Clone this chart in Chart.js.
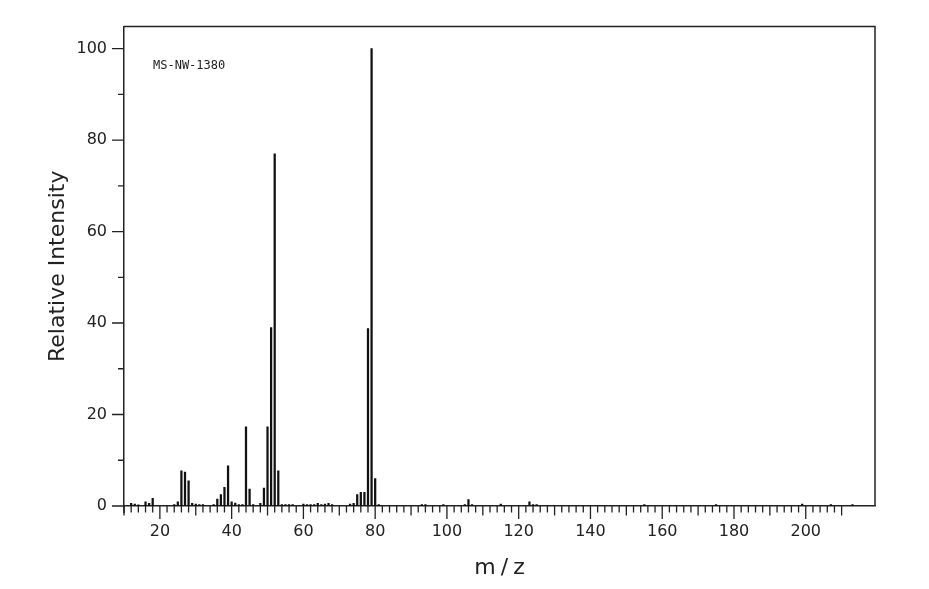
<!DOCTYPE html>
<html>
<head>
<meta charset="utf-8">
<script src="https://cdn.jsdelivr.net/npm/chart.js@4"></script>
<style>
html,body{margin:0;padding:0;background:#fff;}
#wrap{width:929px;height:589px;position:relative;}
</style>
</head>
<body>
<div id="wrap"><canvas id="c"></canvas></div>
<script>
// m/z values of the peaks
const mz = [12,13,14,16,17,18,24,25,26,27,28,29,30,31,32,35,36,37,38,39,40,41,42,43,44,45,46,48,49,50,51,52,53,54,55,56,57,60,61,62,63,64,65,66,67,68,73,74,75,76,77,78,79,80,81,93,94,99,105,106,107,115,123,124,125,155,175,199,207,213];
// relative intensities (%)
const intensity = [0.6,0.4,0.25,0.9,0.6,1.7,0.3,0.9,7.7,7.4,5.5,0.6,0.4,0.3,0.3,0.3,1.5,2.5,4.1,8.8,0.9,0.65,0.3,0.3,17.3,3.7,0.3,0.6,3.9,17.3,39.0,77.0,7.7,0.3,0.3,0.3,0.3,0.4,0.3,0.3,0.3,0.6,0.3,0.4,0.6,0.3,0.4,0.6,2.5,3.0,3.0,38.8,100,6.0,0.3,0.3,0.3,0.3,0.3,1.4,0.3,0.4,0.9,0.3,0.3,0.3,0.3,0.4,0.3,0.3];
// tick labels
const xTickLabels = [20,40,60,80,100,120,140,160,180,200];
const yTickLabels = [0,20,40,60,80,100];
const xMinorTicks = []; for (let v = 10; v <= 210; v += 2) xMinorTicks.push(v);
const yMinorTicks = [0,10,20,30,40,50,60,70,80,90,100];
const sampleLabel = 'MS-NW-1380';
const xTitle = 'm/z';
const yTitle = 'Relative Intensity';

const INK = '#222';
const FONT = "'DejaVu Sans', sans-serif";

const framePlugin = {
  id: 'frame',
  afterDraw(chart) {
    const ctx = chart.ctx;
    const a = chart.chartArea;
    const xs = chart.scales.x, ys = chart.scales.y;
    ctx.save();
    ctx.strokeStyle = INK;
    ctx.lineWidth = 1.5;
    ctx.beginPath();
    ctx.moveTo(a.left, a.top); ctx.lineTo(a.right, a.top); ctx.lineTo(a.right, a.bottom);
    ctx.moveTo(a.left, a.bottom); ctx.lineTo(a.left, a.bottom + 7);
    ctx.stroke();
    ctx.lineWidth = 1.3;
    ctx.beginPath();
    xMinorTicks.forEach(v => {
      const px = xs.getPixelForValue(v);
      const len = v % 20 === 0 ? 13 : (v % 10 === 0 ? 9.5 : 6.5);
      ctx.moveTo(px, a.bottom); ctx.lineTo(px, a.bottom + len);
    });
    yMinorTicks.forEach(v => {
      const py = ys.getPixelForValue(v);
      const len = v % 20 === 0 ? 12 : 6;
      ctx.moveTo(a.left, py); ctx.lineTo(a.left - len, py);
    });
    ctx.stroke();
    ctx.fillStyle = INK;
    ctx.font = "12px 'DejaVu Sans Mono', monospace";
    ctx.textBaseline = 'middle';
    ctx.textAlign = 'left';
    ctx.fillText(sampleLabel, 153, 65.5);
    ctx.font = '22px ' + FONT;
    ctx.textAlign = 'center';
    ctx.textBaseline = 'alphabetic';
    try { ctx.letterSpacing = '5px'; } catch(e) {}
    ctx.fillText(xTitle, (a.left + a.right) / 2 + 2.5, 573.5);
    ctx.restore();
  }
};

new Chart(document.getElementById('c'), {
  type: 'bar',
  data: {
    datasets: [{
      data: mz.map((m, i) => ({x: m, y: intensity[i]})),
      backgroundColor: '#111',
      borderWidth: 0,
      barThickness: 1.6
    }]
  },
  options: {
    responsive: true,
    maintainAspectRatio: false,
    animation: false,
    devicePixelRatio: 1,
    layout: { padding: { left: 0, top: 25.5, right: 54, bottom: 0 } },
    plugins: { legend: { display: false }, tooltip: { enabled: false } },
    scales: {
      x: {
        type: 'linear',
        offset: false,
        min: 10,
        max: 219.3,
        grid: { display: false, drawTicks: false },
        border: { display: true, color: INK, width: 1.5 },
        afterBuildTicks: s => { s.ticks = xTickLabels.map(v => ({value: v})); },
        afterFit: s => { s.height = 83; },
        ticks: { color: INK, font: { family: FONT, size: 16 }, padding: 16, maxRotation: 0, autoSkip: false }
      },
      y: {
        min: 0,
        max: 104.8,
        grid: { display: false, drawTicks: false },
        border: { display: true, color: INK, width: 1.5 },
        afterBuildTicks: s => { s.ticks = yTickLabels.map(v => ({value: v})); },
        afterFit: s => { s.width = 124; },
        ticks: { color: INK, font: { family: FONT, size: 16 }, padding: 17 },
        title: { display: true, text: yTitle, color: INK, font: { family: FONT, size: 22 }, padding: { top: 45, bottom: 0 } }
      }
    }
  },
  plugins: [framePlugin]
});
</script>
</body>
</html>
